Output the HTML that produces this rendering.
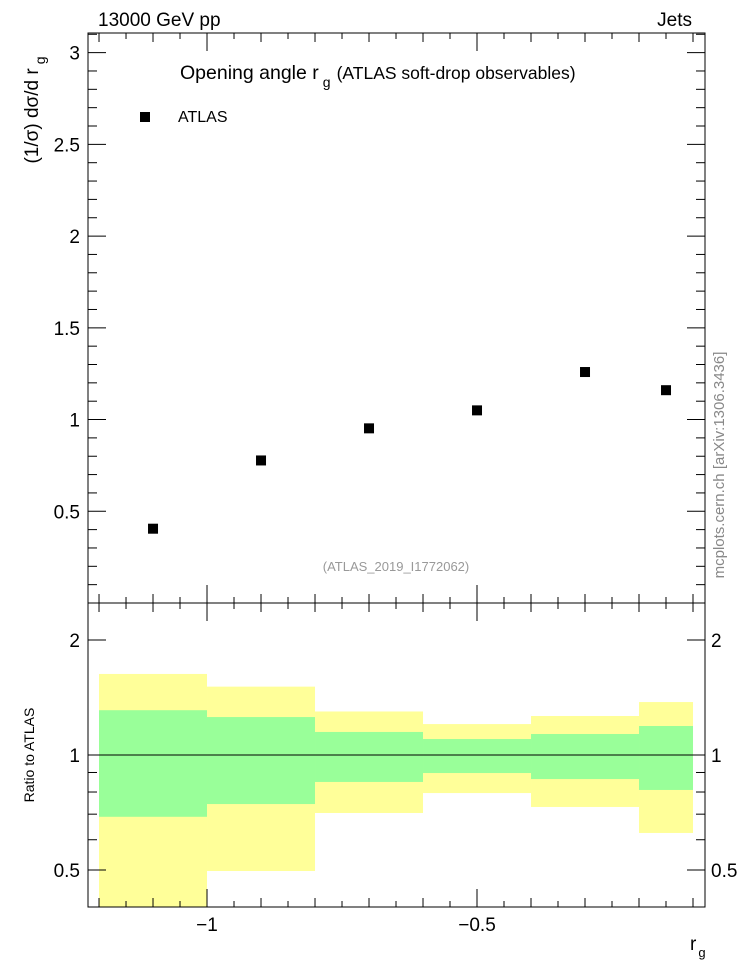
<!DOCTYPE html>
<html><head><meta charset="utf-8"><style>
body{margin:0;background:#fff;font-family:"Liberation Sans",sans-serif}
svg text{font-family:"Liberation Sans",sans-serif}
</style></head><body>
<svg id="c" width="746" height="972" xmlns="http://www.w3.org/2000/svg">
<text x="98" y="26" font-size="19">13000 GeV pp</text>
<text x="692" y="26" font-size="19" text-anchor="end">Jets</text>
<text x="180" y="79" font-size="19.5">Opening angle r<tspan font-size="14" dx="4" dy="8">g</tspan><tspan font-size="17.5" dx="6" dy="-8">(ATLAS soft-drop observables)</tspan></text>
<rect x="140" y="112" width="10" height="10" fill="#000"/>
<text x="178" y="122" font-size="16">ATLAS</text>
<text x="396" y="571" font-size="13" fill="#999" text-anchor="middle">(ATLAS_2019_I1772062)</text>
<text transform="translate(724,465) rotate(-90)" font-size="15" fill="#888" text-anchor="middle">mcplots.cern.ch [arXiv:1306.3436]</text>
<text transform="translate(38,110) rotate(-90)" font-size="19" text-anchor="middle">(1/σ) dσ/d r<tspan font-size="14" dx="4" dy="7">g</tspan></text>
<text transform="translate(34,755) rotate(-90)" font-size="14" text-anchor="middle">Ratio to ATLAS</text>
<text x="690" y="950" font-size="19">r<tspan font-size="13" dx="2" dy="7">g</tspan></text>
<g id="g"></g>
</svg>
<script>
const binLo=[-1.2,-1.0,-0.8,-0.6,-0.4,-0.2];
const binHi=[-1.0,-0.8,-0.6,-0.4,-0.2,-0.1];
const xCenters=[-1.1,-0.9,-0.7,-0.5,-0.3,-0.15];
const yValues=[0.405,0.777,0.952,1.05,1.259,1.16];
const yellowHi=[1.63,1.51,1.30,1.205,1.265,1.376];
const yellowLo=[0.35,0.497,0.705,0.795,0.731,0.625];
const greenHi=[1.31,1.257,1.149,1.101,1.135,1.191];
const greenLo=[0.689,0.744,0.85,0.897,0.865,0.81];
const yTicks=[0.5,1,1.5,2,2.5,3];
const yTickLabels=["0.5","1","1.5","2","2.5","3"];
const rTicks=[0.5,1,2];
const rTickLabels=["0.5","1","2"];
const xTicks=[-1,-0.5];
const xTickLabels=["\u22121","\u22120.5"];

const L=88,R=705,T=33,M=603,B=907;
const X0=-1.2204,X1=-0.0778;
const sx=v=>L+(v-X0)/(X1-X0)*(R-L);
const Y1=3.107;
const sy=v=>M-v/Y1*(M-T);
const RLo=0.4,RHi=2.5;
const sr=v=>B-(Math.log10(v)-Math.log10(RLo))/(Math.log10(RHi)-Math.log10(RLo))*(B-M);
const g=document.getElementById('g');
const NS='http://www.w3.org/2000/svg';
function mk(t,a){const e=document.createElementNS(NS,t);for(const k in a)e.setAttribute(k,a[k]);g.appendChild(e);return e;}
function ln(x1,y1,x2,y2){return mk('line',{x1,y1,x2,y2,stroke:'#000','stroke-width':1});}
for(let i=0;i<binLo.length;i++){
 const x=sx(binLo[i]),w=sx(binHi[i])-x;
 let top=Math.max(M,sr(yellowHi[i])),bot=Math.min(B,sr(Math.max(yellowLo[i],RLo)));
 const y=mk('rect',{x,y:top,width:w,height:bot-top,fill:'#ffff99'});
 
 
 const gt=sr(greenHi[i]),gb=sr(greenLo[i]);
 const gr=mk('rect',{x,y:gt,width:w,height:gb-gt,fill:'#99ff99'});
 
 
}
const one=ln(L,sr(1),R,sr(1));


for(let i=0;i<xCenters.length;i++){
 const p=mk('rect',{x:sx(xCenters[i])-5,y:sy(yValues[i])-5,width:10,height:10,fill:'#000'});
 
 
}
const f1=mk('rect',{x:L,y:T,width:R-L,height:M-T,fill:'none',stroke:'#000','stroke-width':1});


const f2=mk('rect',{x:L,y:M,width:R-L,height:B-M,fill:'none',stroke:'#000','stroke-width':1});


for(let k=-24;k<=-2;k++){
 const v=k*0.05;const x=sx(v);
 if(x<L||x>R)continue;
 const big=Math.abs(v*2-Math.round(v*2))<1e-6, mid=k%2===0;
 const len=big?18:(mid?9:6);
 ln(x,M,x,M-len);ln(x,T,x,T+len);ln(x,B,x,B-len);ln(x,M,x,M+len);
}
for(let i=0;i<xTicks.length;i++){
 const t=mk('text',{x:sx(xTicks[i]),y:931,'font-size':19,'text-anchor':'middle'});
 t.textContent=xTickLabels[i];
 
 
}
for(let k=1;k<=31;k++){
 const v=k*0.1;const y=sy(v);const big=k%5===0;const len=big?18:9;
 ln(L,y,L+len,y);ln(R,y,R-len,y);
}
for(let i=0;i<yTicks.length;i++){
 const t=mk('text',{x:80,y:sy(yTicks[i])+7,'font-size':19,'text-anchor':'end'});
 t.textContent=yTickLabels[i];
 
 
}
const minors=[0.4,0.5,0.6,0.7,0.8,0.9,1,2];
for(const v of minors){const y=sr(v);const big=(v===1||v===2||v===0.5);const len=big?18:9;ln(L,y,L+len,y);ln(R,y,R-len,y);}
for(let i=0;i<rTicks.length;i++){
 const t=mk('text',{x:80,y:sr(rTicks[i])+7,'font-size':19,'text-anchor':'end'});
 t.textContent=rTickLabels[i];
 
 
 const t2=mk('text',{x:711,y:sr(rTicks[i])+7,'font-size':19});
 t2.textContent=rTickLabels[i];
 
 
}
</script>
</body></html>
